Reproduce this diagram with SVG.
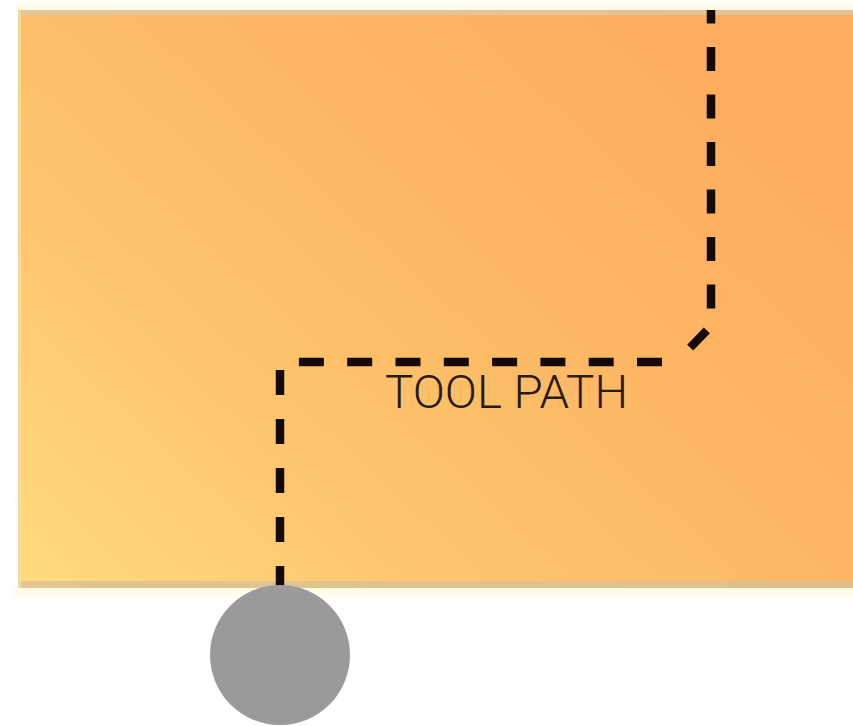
<svg xmlns="http://www.w3.org/2000/svg" width="853" height="726" viewBox="0 0 853 726">
  <style>
    .tp { fill: none; stroke: #150905; stroke-width: 8.5; stroke-linecap: butt; }
    .lbl { font-family: Roboto, "Liberation Sans", Arial, sans-serif; font-weight: 300; font-size: 46px; fill: #2a1a0c; }
  </style>
  <defs>
    <linearGradient id="stock" x1="0" y1="1" x2="1" y2="0.25">
      <stop offset="0" stop-color="#FFDC7E"/>
      <stop offset="0.3" stop-color="#FEC76E"/>
      <stop offset="0.65" stop-color="#FDB763"/>
      <stop offset="1" stop-color="#FCAC5C"/>
    </linearGradient>
    <linearGradient id="glowTop" x1="0" y1="0" x2="0" y2="1">
      <stop offset="0" stop-color="#ffffff"/>
      <stop offset="1" stop-color="#fffbe2"/>
    </linearGradient>
    <linearGradient id="glowBot" x1="0" y1="0" x2="0" y2="1">
      <stop offset="0" stop-color="#fffbe2"/>
      <stop offset="1" stop-color="#ffffff"/>
    </linearGradient>
  </defs>
  <rect x="0" y="0" width="853" height="726" fill="#ffffff"/>
  <g id="workpiece">
    <rect x="14" y="0" width="839" height="10" fill="url(#glowTop)"/>
    <rect x="14" y="588" width="839" height="14" fill="url(#glowBot)"/>
    <rect x="18" y="10" width="840" height="578" fill="url(#stock)"/>
    <rect x="18" y="10" width="840" height="5" fill="#dccaa2" opacity="0.8"/>
    <rect x="18" y="581" width="840" height="7" fill="#d9c196" opacity="0.8"/>
    <rect x="18" y="10" width="3" height="578" fill="#f6dc9e" opacity="0.8"/>
  </g>
  <g id="connectors">
    <path class="tp" d="M711,10 V326 L686,352" stroke-dasharray="24 23.5" stroke-dashoffset="10.5"/>
    <path class="tp" d="M662,362 H280" stroke-dasharray="25 23.3"/>
    <path class="tp" d="M280,370 V588" stroke-dasharray="25 24"/>
  </g>
  <g id="tool">
    <circle cx="280" cy="655" r="70" fill="#9a9a9c"/>
  </g>
  <g id="label">
    <text class="lbl" x="385" y="408" textLength="243" lengthAdjust="spacingAndGlyphs">TOOL PATH</text>
  </g>
</svg>
